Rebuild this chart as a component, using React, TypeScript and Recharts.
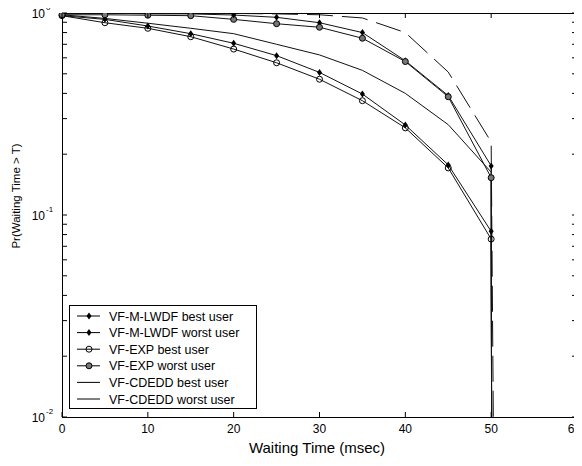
import React from 'react'
import { Legend, Line, LineChart, ReferenceArea, XAxis, YAxis } from 'recharts'

// waiting time samples (msec)
const waitTimes = [0, 5, 10, 15, 20, 25, 30, 35, 40, 45, 50]

// Pr(Waiting Time > T)
const lwdfBest = [0.97, 0.93, 0.862, 0.79, 0.708, 0.615, 0.508, 0.397, 0.279, 0.177, 0.083]
const lwdfWorst = [1.0, 1.0, 0.99, 0.99, 0.977, 0.952, 0.895, 0.8, 0.58, 0.39, 0.175]
const expBest = [0.97, 0.895, 0.84, 0.763, 0.663, 0.567, 0.47, 0.368, 0.27, 0.171, 0.076]
const expWorst = [0.98, 0.98, 0.975, 0.97, 0.93, 0.885, 0.85, 0.75, 0.575, 0.385, 0.153]
const cdeddBest = [0.98, 0.94, 0.89, 0.84, 0.79, 0.7, 0.62, 0.52, 0.4, 0.28, 0.163]
const cdeddWorst = [1.0, 1.0, 1.0, 1.0, 0.995, 0.99, 0.98, 0.945, 0.8, 0.51, 0.23]

// every curve falls off to the floor just after the 50 msec deadline
const cutoffTimes = [50.05, 50.05, 50.05, 50.05, 50.05, 50.25]
const floorValue = 0.01

const seriesNames = [
  'VF-M-LWDF best user',
  'VF-M-LWDF worst user',
  'VF-EXP best user',
  'VF-EXP worst user',
  'VF-CDEDD best user',
  'VF-CDEDD worst user',
]

const xTicks = [0, 10, 20, 30, 40, 50, 60]
const yTicks = [
  0.01, 0.02, 0.03, 0.04, 0.05, 0.06, 0.07, 0.08, 0.09,
  0.1, 0.2, 0.3, 0.4, 0.5, 0.6, 0.7, 0.8, 0.9, 1,
]
const yMajor = [0.01, 0.1, 1]
const yMajorExp = ['-2', '-1', '0']

const FONT = '"Liberation Sans", Arial, Helvetica, sans-serif'
const W = 582
const H = 466
const PLOT = { left: 62, right: 577, top: 13, bottom: 417 }
const TICK = 5

type Kind = 'diamond' | 'circle' | 'dotCircle' | 'none'
const seriesStyle: { kind: Kind; dash?: string }[] = [
  { kind: 'diamond' },
  { kind: 'diamond' },
  { kind: 'circle' },
  { kind: 'dotCircle' },
  { kind: 'none' },
  { kind: 'none', dash: '26 9' },
]

const seriesValues = [lwdfBest, lwdfWorst, expBest, expWorst, cdeddBest, cdeddWorst]

const series = seriesValues.map((vals, i) => ({
  name: seriesNames[i],
  ...seriesStyle[i],
  data: waitTimes
    .map((t, j) => ({ t, p: vals[j] }))
    .concat({ t: cutoffTimes[i], p: floorValue }),
}))

function Marker({ cx, cy, kind }: { cx: number; cy: number; kind: Kind }) {
  if (kind === 'diamond')
    return (
      <path
        d={`M${cx} ${cy - 3.5}L${cx + 2.5} ${cy}L${cx} ${cy + 3.5}L${cx - 2.5} ${cy}Z`}
        fill="#000"
      />
    )
  if (kind === 'circle')
    return <circle cx={cx} cy={cy} r={3} fill="none" stroke="#000" strokeWidth={1} />
  if (kind === 'dotCircle')
    return <circle cx={cx} cy={cy} r={3} fill="#777" stroke="#000" strokeWidth={1} />
  return null
}

function XTick(props: any) {
  const { x, payload } = props
  const nearEdge = x + 8 > W
  return (
    <g>
      <line x1={x} x2={x} y1={PLOT.bottom} y2={PLOT.bottom - TICK} stroke="#000" />
      <line x1={x} x2={x} y1={PLOT.top} y2={PLOT.top + TICK} stroke="#000" />
      <text
        x={nearEdge ? W - 1 : x}
        y={433}
        textAnchor={nearEdge ? 'end' : 'middle'}
        fontSize={12}
        fontFamily={FONT}
        fill="#000"
      >
        {payload.value}
      </text>
    </g>
  )
}

function YTick(props: any) {
  const { y, payload } = props
  const idx = yMajor.findIndex((m) => Math.abs(m - payload.value) < 1e-9)
  return (
    <g>
      <line x1={PLOT.left} x2={PLOT.left + TICK} y1={y} y2={y} stroke="#000" />
      <line x1={PLOT.right} x2={PLOT.right - TICK} y1={y} y2={y} stroke="#000" />
      {idx >= 0 && (
        <text fontFamily={FONT} fill="#000">
          <tspan x={45} y={y + 5} textAnchor="end" fontSize={12}>
            10
          </tspan>
          <tspan x={46} y={y - 3} fontSize={8}>
            {yMajorExp[idx]}
          </tspan>
        </text>
      )}
    </g>
  )
}

function LegendBox() {
  return (
    <svg width={188} height={104} style={{ display: 'block' }}>
      <rect x={0.5} y={0.5} width={187} height={103} fill="#fff" stroke="#000" />
      {series.map((s, i) => {
        const cy = 11 + i * 16.6
        return (
          <g key={s.name}>
            <line x1={8} x2={31} y1={cy} y2={cy} stroke="#000" strokeDasharray={s.dash} />
            <Marker cx={20} cy={cy} kind={s.kind} />
            <text x={40} y={cy + 4.5} fontSize={12.5} fontFamily={FONT} fill="#000">
              {s.name}
            </text>
          </g>
        )
      })}
    </svg>
  )
}

export default function App() {
  return (
    <div style={{ margin: '-8px 0 0 -8px', width: W, height: H }}>
      <LineChart
        width={W}
        height={H}
        margin={{ top: PLOT.top, right: W - PLOT.right, left: 0, bottom: 0 }}
        style={{ background: '#fff' }}
      >
        <XAxis
          dataKey="t"
          type="number"
          domain={[0, 60]}
          ticks={xTicks}
          interval={0}
          height={H - PLOT.bottom}
          axisLine={false}
          tickLine={false}
          tick={<XTick />}
          label={() => (
            <text x={317} y={453} textAnchor="middle" fontSize={15} fontFamily={FONT} fill="#000">
              Waiting Time (msec)
            </text>
          )}
        />
        <YAxis
          scale="log"
          domain={[0.01, 1]}
          allowDataOverflow
          ticks={yTicks}
          interval={0}
          width={PLOT.left}
          axisLine={false}
          tickLine={false}
          tick={<YTick />}
          label={() => (
            <text
              x={20}
              y={196}
              transform="rotate(-90, 20, 196)"
              textAnchor="middle"
              fontSize={11.5}
              fontFamily={FONT}
              fill="#000"
            >
              Pr(Waiting Time &gt; T)
            </text>
          )}
        />
        <ReferenceArea
          x1={0}
          x2={60}
          y1={0.01}
          y2={1}
          fill="none"
          stroke="#000"
          strokeWidth={1}
          shapeRendering="crispEdges"
        />
        {series.map((s) => (
          <Line
            key={s.name}
            name={s.name}
            data={s.data}
            dataKey="p"
            type="linear"
            stroke="#111"
            strokeWidth={1}
            strokeDasharray={s.dash}
            isAnimationActive={false}
            dot={(p: any) => (
              <g key={`${s.name}-${p.index}`}>
                {p.payload.t <= 50 && <Marker cx={p.cx} cy={p.cy} kind={s.kind} />}
              </g>
            )}
            activeDot={false}
          />
        ))}
        <Legend
          layout="vertical"
          align="center"
          verticalAlign="middle"
          content={() => <LegendBox />}
          wrapperStyle={{ position: 'absolute', left: 69, top: 305, width: 188, height: 104 }}
        />
      </LineChart>
    </div>
  )
}
